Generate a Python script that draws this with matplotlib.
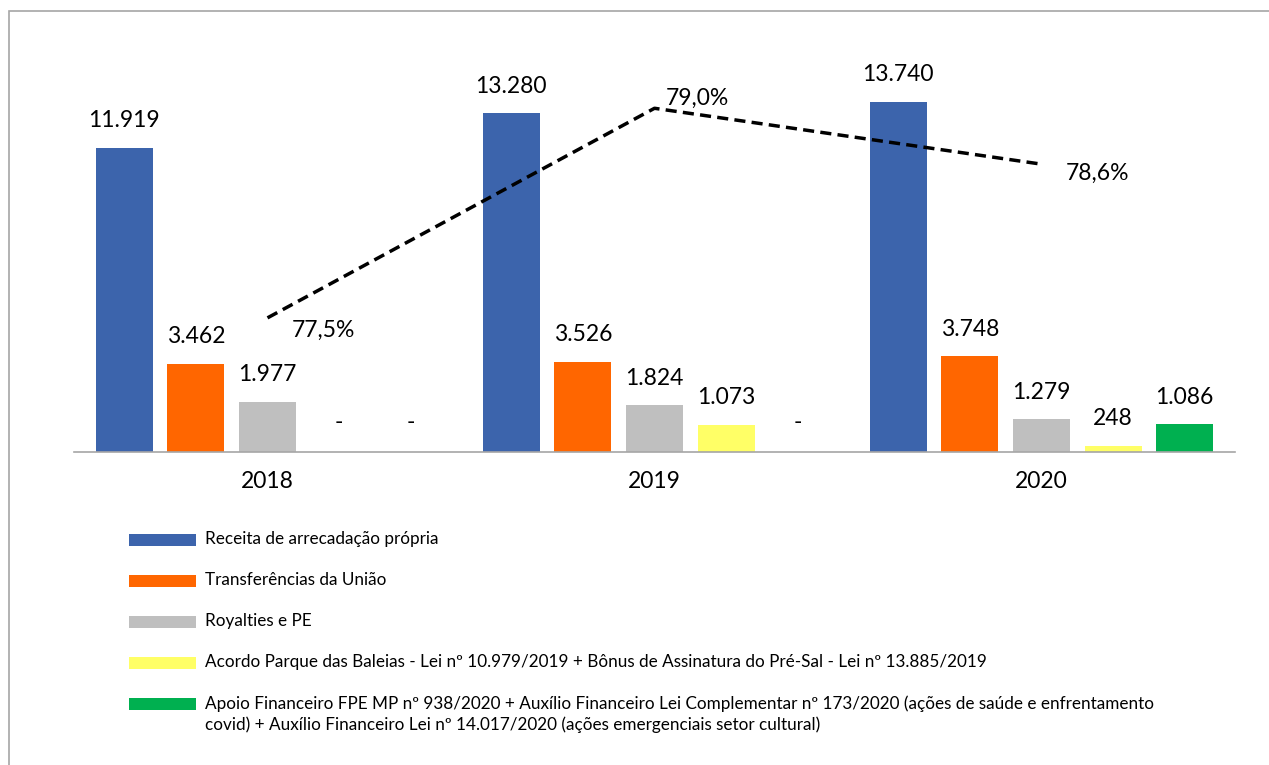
import matplotlib
matplotlib.use('Agg')
import matplotlib.pyplot as plt
from matplotlib.patches import Rectangle
import numpy as np

plt.rcParams['font.family'] = ['Lato', 'DejaVu Sans']

anos = ['2018', '2019', '2020']
series = ['Receita de arrecadação própria',
          'Transferências da União',
          'Royalties e PE',
          'Acordo Parque das Baleias - Lei nº 10.979/2019 + Bônus de Assinatura do Pré-Sal - Lei nº 13.885/2019',
          'Apoio Financeiro FPE MP nº 938/2020 + Auxílio Financeiro Lei Complementar nº 173/2020 (ações de saúde e enfrentamento\ncovid) + Auxílio Financeiro Lei nº 14.017/2020 (ações emergenciais setor cultural)']
receita = [11919, 13280, 13740]
transf = [3462, 3526, 3748]
royalties = [1977, 1824, 1279]
baleias = [0, 1073, 248]
apoio = [0, 0, 1086]
percentual = [77.5, 79.0, 78.6]
cores = ['#3C64AC', '#FF6600', '#BFBFBF', '#FFFF66', '#00B050']

valores = [receita, transf, royalties, baleias, apoio]

W, H = 1269, 765
fig = plt.figure(figsize=(W / 100, H / 100), dpi=100)

# moldura cinza
fig.patches.append(Rectangle((9 / W, -0.1), 1.2, 0.1 + (H - 11) / H, transform=fig.transFigure,
                             fill=False, edgecolor='#A6A6A6', linewidth=1.2))

ax = fig.add_axes([74 / W, (H - 452) / H, (1235 - 74) / W, (452 - 44) / H])
x = np.arange(len(anos))
larg = 0.147
passo = 0.185

for i, (vals, cor) in enumerate(zip(valores, cores)):
    pos = x + (i - 2) * passo
    ax.bar(pos, vals, width=larg, color=cor)
    for p, v in zip(pos, vals):
        if v > 0:
            txt = '{:,}'.format(v).replace(',', '.')
            ax.annotate(txt, (p, v), xytext=(0, 12), textcoords='offset points',
                        ha='center', va='bottom', fontsize=16.5)
        else:
            ax.annotate('-', (p, 0), xytext=(0, 14), textcoords='offset points',
                        ha='center', va='bottom', fontsize=16.5)

ax.set_xlim(-0.5, 2.5)
ax.set_ylim(0, 16000)
ax.set_xticks(x)
ax.set_xticklabels(anos, fontsize=16.5)
ax.tick_params(axis='x', length=0, pad=14)
ax.set_yticks([])
for s in ['top', 'right', 'left']:
    ax.spines[s].set_visible(False)
ax.spines['bottom'].set_color('#A6A6A6')
ax.spines['bottom'].set_linewidth(1.2)

ax2 = ax.twinx()
ax2.plot(x, percentual, color='black', linestyle=(0, (3.2, 1.8)), linewidth=2.5)
ax2.set_ylim(76.54, 79.46)
ax2.set_yticks([])
for s in ['top', 'right', 'left', 'bottom']:
    ax2.spines[s].set_visible(False)
desloc = [(40, -9), (31, 7), (40, -6.5)]
for xi, p, d in zip(x, percentual, desloc):
    ax2.annotate('{:.1f}%'.format(p).replace('.', ','), (xi, p), xytext=d,
                 textcoords='offset points', ha='center', va='center', fontsize=16.5)

# legenda
ys = [540, 581, 622, 663, 704]
for yy, nome, cor in zip(ys, series, cores):
    fig.patches.append(Rectangle((129 / W, (H - yy - 6) / H), 67 / W, 12 / H,
                                 transform=fig.transFigure, facecolor=cor, edgecolor='none'))
    fig.text(205 / W, (H - yy) / H + 9 / H, nome, fontsize=12.3, va='top', ha='left',
             linespacing=1.35)

fig.savefig('out.png', dpi=100)
